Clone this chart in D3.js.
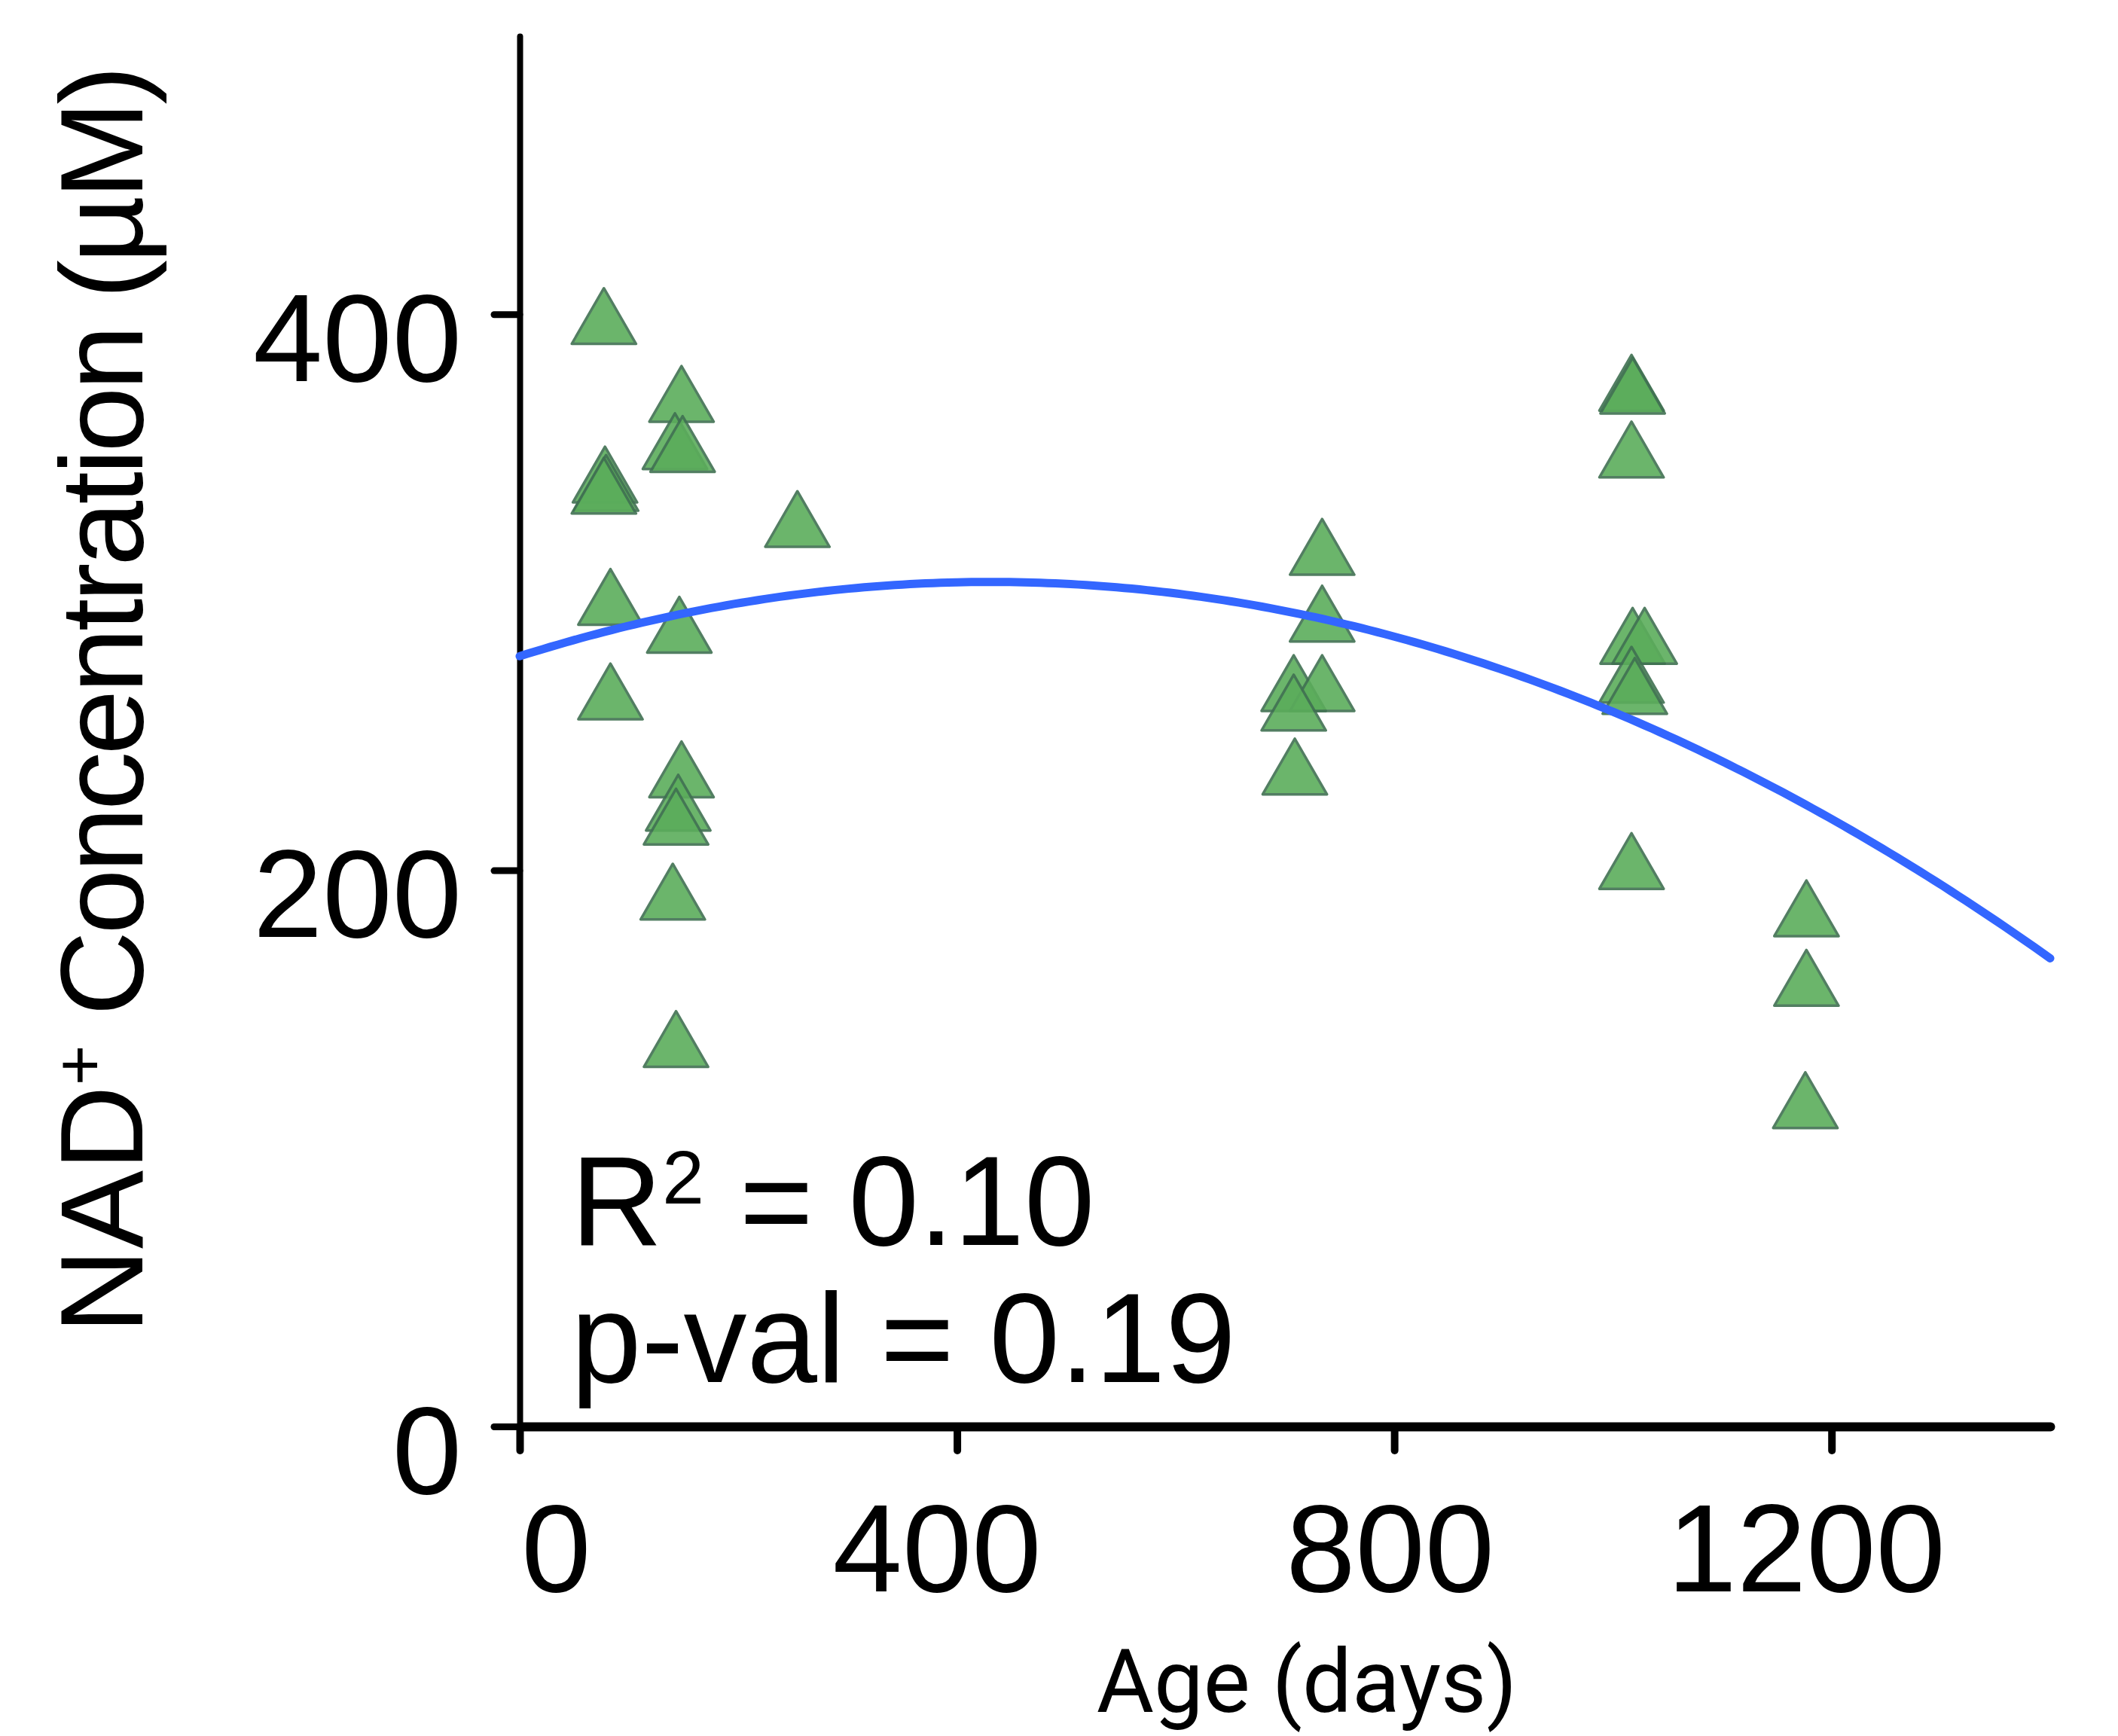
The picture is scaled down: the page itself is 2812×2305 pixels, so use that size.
<!DOCTYPE html>
<html>
<head>
<meta charset="utf-8">
<script src="https://cdn.jsdelivr.net/npm/d3@7"></script>
<style>
body { margin: 0; background: #fff; }
text { font-family: "Liberation Sans", Arial, sans-serif; fill: #000; }
</style>
</head>
<body>
<svg></svg>
<script>
// age in days / NAD+ in uM
var ages = [77, 148, 142, 149, 78, 79, 77, 254, 83, 146, 83, 148, 145, 143, 140, 143,
            734, 734, 708, 734, 708, 709,
            1017, 1018, 1017, 1018, 1029, 1017, 1020, 1017,
            1177, 1177, 1176];
var nad = [396, 368, 351, 350, 339, 336, 335, 323, 295, 285, 261, 233, 221, 216, 189, 136,
           313, 289, 264, 264, 257, 234,
           372, 371, 348, 281, 281, 267, 263, 200,
           183, 158, 114];
var xTicks = [0, 400, 800, 1200];
var yTicks = [0, 200, 400];
var statsText = ["0.10", "0.19"];

var screen = {width: 2812, height: 2305};
var plot = {left: 690, right: 2722, top: 48, bottom: 1894};

var svg = d3.select("svg")
    .attr("width", screen.width)
    .attr("height", screen.height);

var xScale = d3.scaleLinear().domain([0, 1400]).range([plot.left, plot.right]);
var yScale = d3.scaleLinear().domain([0, 500]).range([plot.bottom, plot.top]);

// quadratic least squares fit (what geom_smooth drew)
var fitQuad = function(xs, ys)
{
    var m = [[0,0,0,0],[0,0,0,0],[0,0,0,0]];
    for (var k = 0; k < xs.length; k++) {
        var t = xs[k] / 1000;
        var p = [1, t, t*t];
        for (var i = 0; i < 3; i++) {
            for (var j = 0; j < 3; j++) m[i][j] += p[i]*p[j];
            m[i][3] += p[i]*ys[k];
        }
    }
    for (var c = 0; c < 3; c++) {
        for (var r = c+1; r < 3; r++) {
            var f = m[r][c] / m[c][c];
            for (var q = c; q < 4; q++) m[r][q] -= f*m[c][q];
        }
    }
    var b = [0,0,0];
    for (var r2 = 2; r2 >= 0; r2--) {
        var s = m[r2][3];
        for (var q2 = r2+1; q2 < 3; q2++) s -= m[r2][q2]*b[q2];
        b[r2] = s / m[r2][r2];
    }
    return function(x){ var t = x/1000; return b[0] + b[1]*t + b[2]*t*t; };
}

var fit = fitQuad(ages, nad);
var curveX = d3.range(0, 1401, 7);

// axes
var yAxis = d3.axisLeft(yScale).tickValues(yTicks).tickSize(34).tickSizeOuter(0).tickFormat(d3.format("d"));
var xAxis = d3.axisBottom(xScale).tickValues(xTicks).tickSize(32).tickSizeOuter(0).tickFormat(d3.format("d"));

var gy = svg.append("g").attr("transform", "translate(" + plot.left + ",0)").call(yAxis);
gy.select(".domain").attr("stroke-width", 8).attr("stroke-linecap", "round");
gy.selectAll(".tick line").attr("stroke-width", 9).attr("stroke-linecap", "round");
gy.selectAll(".tick text")
    .attr("x", -77).attr("dy", null).attr("y", 88)
    .attr("font-size", 166).attr("font-family", null);

var xLabelShift = [48, -27, -6, -34];
var gx = svg.append("g").attr("transform", "translate(0," + plot.bottom + ")").call(xAxis);
gx.select(".domain").attr("stroke-width", 12).attr("stroke-linecap", "round");
gx.selectAll(".tick line").attr("stroke-width", 10).attr("stroke-linecap", "round");
gx.selectAll(".tick text")
    .attr("dy", null).attr("y", 219)
    .attr("x", function(d, i){ return xLabelShift[i]; })
    .attr("font-size", 166).attr("font-family", null);

svg.selectAll(".tick text").style("font-family", "'Liberation Sans', Arial, sans-serif");

// points
var symbol = d3.symbol().type(d3.symbolTriangle).size(3150);
svg.append("g")
    .selectAll("path")
    .data(ages)
    .enter()
    .append("path")
    .attr("d", symbol)
    .attr("transform", function(d, i){ return "translate(" + xScale(d) + "," + yScale(nad[i]) + ")"; })
    .attr("fill", "rgb(91,173,91)")
    .attr("stroke", "rgb(64,113,82)")
    .attr("stroke-width", 3.5)
    .attr("stroke-linejoin", "round")
    .attr("opacity", 0.9);

// fitted curve
var line = d3.line()
    .x(function(d){ return xScale(d); })
    .y(function(d){ return yScale(fit(d)); });

svg.append("path")
    .datum(curveX)
    .attr("d", line)
    .attr("fill", "none")
    .attr("stroke", "#3366FF")
    .attr("stroke-width", 11)
    .attr("stroke-linecap", "round");

// stats text
var r2 = svg.append("text").attr("x", 758).attr("y", 1653).attr("font-size", 168);
r2.append("tspan").text("R");
r2.append("tspan").attr("font-size", 100).attr("dy", -55).text("2");
r2.append("tspan").attr("dy", 55).text(" = " + statsText[0]);

svg.append("text").attr("x", 758).attr("y", 1835).attr("font-size", 168)
    .text("p-val = " + statsText[1]);

// axis titles
var yt = svg.append("text")
    .attr("transform", "translate(189,931) rotate(-90)")
    .attr("text-anchor", "middle")
    .attr("font-size", 156);
yt.append("tspan").text("NAD");
yt.append("tspan").attr("font-size", 92).attr("dy", -52).text("+");
yt.append("tspan").attr("dy", 52).style("letter-spacing", "-4.5px").text(" Concentration (\u00B5M)");

svg.append("text")
    .attr("x", 1735).attr("y", 2273)
    .attr("text-anchor", "middle")
    .attr("font-size", 117)
    .style("font-family", "Roboto, sans-serif")
    .text("Age (days)");
</script>
</body>
</html>
